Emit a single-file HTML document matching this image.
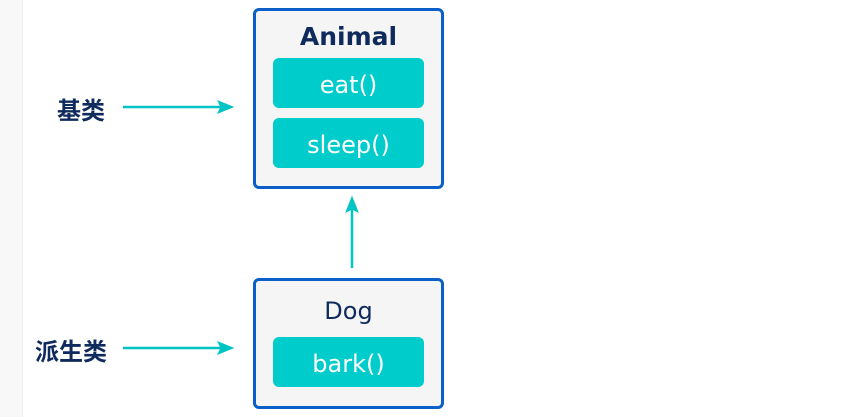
<!DOCTYPE html>
<html><head><meta charset="utf-8"><style>
body{margin:0;width:856px;height:417px;background:#fff;position:relative;overflow:hidden;font-family:"Liberation Sans","DejaVu Sans","Noto Sans CJK SC",sans-serif}
.strip{position:absolute;left:0;top:0;width:22px;height:417px;background:#f8f8f8;border-right:1px solid #efefef}
.box{position:absolute;left:253px;width:185px;border:3px solid #0a60c8;border-radius:6px;background:#f5f5f5}
.t{position:absolute;left:0;width:100%;text-align:center;color:#0f2a5c}
.pill{position:absolute;left:17px;width:151px;height:50px;border-radius:6px;background:#00cccc;color:#fff;font-size:24px;line-height:54px;text-align:center;font-family:"DejaVu Sans",sans-serif}
.lab{position:absolute;font-weight:bold;color:#0f2a5c;font-size:24px;font-family:"Noto Sans CJK SC",sans-serif;line-height:30px}
</style></head><body>
<div class="strip"></div>
<div class="box" style="top:8px;height:175px">
<div class="t" style="top:11px;font-size:25px;font-weight:bold;font-family:'DejaVu Sans',sans-serif">Animal</div>
<div class="pill" style="top:47px">eat()</div>
<div class="pill" style="top:107px">sleep()</div>
</div>
<div class="box" style="top:278px;height:125px">
<div class="t" style="top:16px;font-size:24px;font-family:'DejaVu Sans',sans-serif">Dog</div>
<div class="pill" style="top:56px">bark()</div>
</div>
<div class="lab" style="left:57px;top:94px">基类</div>
<div class="lab" style="left:35px;top:335px">派生类</div>
<svg width="856" height="417" style="position:absolute;left:0;top:0">
<g stroke="#00c4c4" stroke-width="2.5" fill="#00c4c4">
<line x1="123" y1="107" x2="225" y2="107"/><polygon points="218,101 233,107 218,113 221,107" stroke-width="1"/>
<line x1="123" y1="348" x2="225" y2="348"/><polygon points="218,342 233,348 218,354 221,348" stroke-width="1"/>
<line x1="352" y1="268" x2="352" y2="205"/><polygon points="346,212 352,197 358,212 352,209" stroke-width="1"/>
</g></svg>
</body></html>
